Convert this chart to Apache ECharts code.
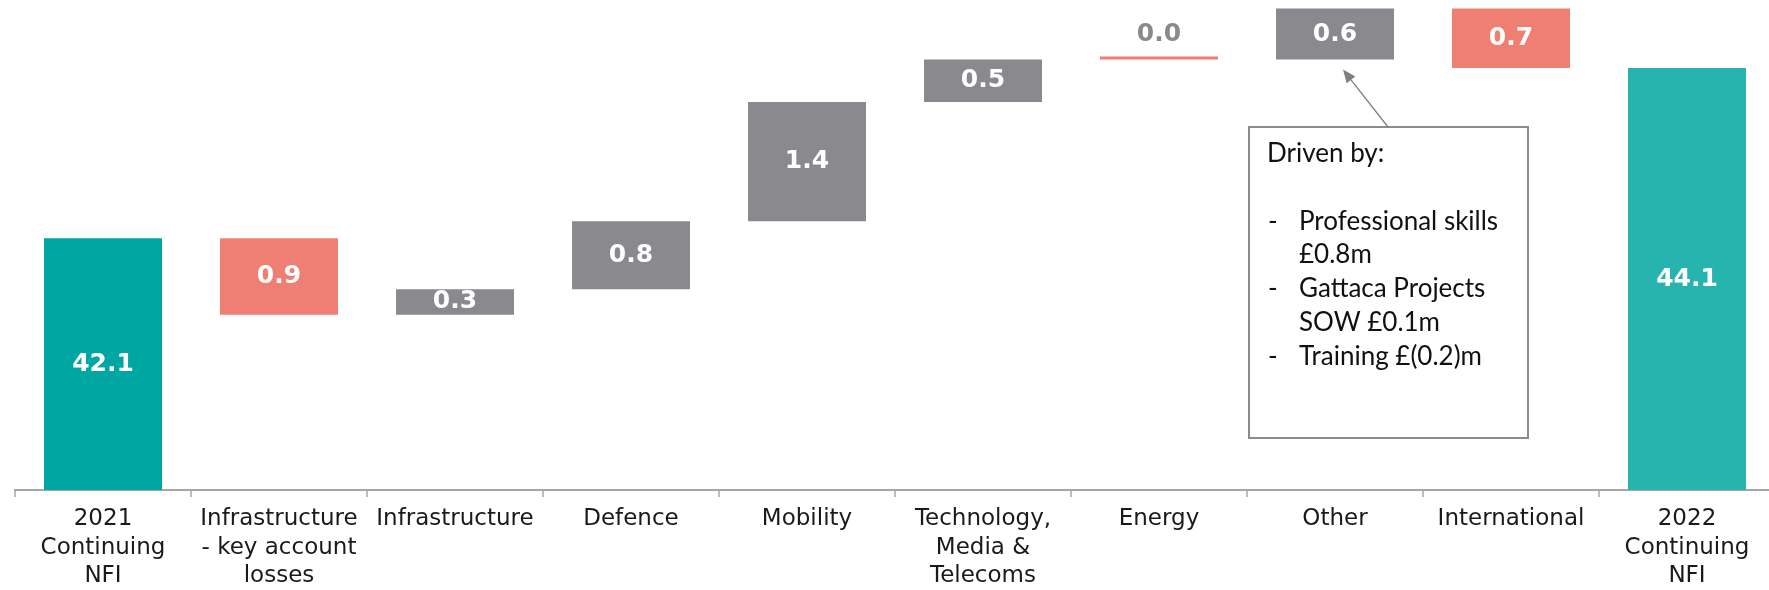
<!DOCTYPE html>
<html>
<head>
<meta charset="utf-8">
<script src="https://cdn.jsdelivr.net/npm/echarts@6/dist/echarts.min.js"></script>
<style>
html,body{margin:0;padding:0;background:#ffffff;}
#chart{width:1769px;height:590px;}
</style>
</head>
<body>
<div id="chart"></div>
<script>
// ---- data ----
const categories = [
  '2021\nContinuing\nNFI',
  'Infrastructure\n- key account\nlosses',
  'Infrastructure',
  'Defence',
  'Mobility',
  'Technology,\nMedia &\nTelecoms',
  'Energy',
  'Other',
  'International',
  '2022\nContinuing\nNFI'
];
const startTotal = 42.1;
const changes = [-0.9, 0.3, 0.8, 1.4, 0.5, 0.0, 0.6, -0.7];
const endTotal = 44.1;
const noteTitle = 'Driven by:';
const noteItems = [
  ['Professional skills', '£0.8m'],
  ['Gattaca Projects', 'SOW £0.1m'],
  ['Training £(0.2)m']
];
const noteTarget = 'Other';

// ---- styles ----
const TEAL_START = '#00A6A1';
const TEAL_END = '#28B4AE';
const RED = '#F07F73';
const GRAY = '#89898E';

// ---- build waterfall ----
const baseData = [];
const barData = [];
let running = startTotal;
const cumBefore = {};
baseData.push(0);
barData.push({ value: startTotal, itemStyle: { color: TEAL_START } });
changes.forEach((c, i) => {
  const cat = categories[i + 1];
  cumBefore[cat] = running;
  const lo = c >= 0 ? running : running + c;
  baseData.push(+lo.toFixed(4));
  const item = { value: Math.abs(c), itemStyle: { color: c > 0 ? GRAY : RED } };
  if (Math.abs(c) < 0.05) {
    item.label = { position: 'top', color: GRAY, distance: 10 };
  }
  barData.push(item);
  running += c;
});
baseData.push(0);
barData.push({ value: endTotal, itemStyle: { color: TEAL_END } });

const chart = echarts.init(document.getElementById('chart'), null, { renderer: 'canvas' });

const option = {
  animation: false,
  backgroundColor: '#ffffff',
  grid: { left: 15, top: 0, width: 1760, height: 490, containLabel: false, outerBoundsMode: 'none' },
  xAxis: {
    type: 'category',
    data: categories,
    axisLine: { lineStyle: { color: '#A6A6A6', width: 2 } },
    axisTick: { show: true, length: 7, lineStyle: { color: '#A6A6A6', width: 1.5 } },
    axisLabel: {
      interval: 0,
      margin: 15,
      color: '#1a1a1a',
      fontFamily: 'DejaVu Sans',
      fontSize: 23,
      lineHeight: 28.5,
      align: 'center'
    }
  },
  yAxis: {
    type: 'value',
    min: 39.14,
    max: 44.9,
    show: false,
    splitLine: { show: false }
  },
  series: [
    {
      type: 'bar',
      stack: 'wf',
      barWidth: 118,
      data: baseData,
      itemStyle: { color: 'rgba(0,0,0,0)' },
      emphasis: { disabled: true },
      silent: true
    },
    {
      type: 'bar',
      stack: 'wf',
      barWidth: 118,
      barMinHeight: 3,
      data: barData,
      label: {
        show: true,
        position: 'inside',
        color: '#ffffff',
        fontFamily: 'DejaVu Sans',
        fontWeight: 'bold',
        fontSize: 25,
        lineHeight: 25,
        formatter: p => Number(p.value).toFixed(1)
      }
    }
  ]
};
chart.setOption(option);

// ---- annotation box with arrow ----
const boxLeft = 1249, boxTop = 127, boxW = 279, boxH = 311;
const lineH = 33.7;
const noteFont = '26px Lato';
const texts = [];
texts.push({ type: 'text', style: { text: noteTitle, x: boxLeft + 18, y: boxTop + 27, font: noteFont, fill: '#111', verticalAlign: 'middle' } });
let row = 2;
noteItems.forEach(item => {
  texts.push({ type: 'text', style: { text: '-', x: boxLeft + 19, y: boxTop + 27 + row * lineH, font: noteFont, fill: '#111', verticalAlign: 'middle' } });
  item.forEach(t => {
    texts.push({ type: 'text', style: { text: t, x: boxLeft + 50, y: boxTop + 27 + row * lineH, font: noteFont, fill: '#111', verticalAlign: 'middle' } });
    row++;
  });
});

const barBottom = chart.convertToPixel({ xAxisIndex: 0, yAxisIndex: 0 }, [noteTarget, cumBefore[noteTarget]]);
const tip = [barBottom[0] + 8, barBottom[1] + 10];
const tail = [boxLeft + 139, boxTop];
const dx = tip[0] - tail[0], dy = tip[1] - tail[1];
const len = Math.sqrt(dx * dx + dy * dy);
const ux = dx / len, uy = dy / len;
const ah = 13, aw = 5.5;
const bx = tip[0] - ux * ah, by = tip[1] - uy * ah;
const head = [
  [tip[0], tip[1]],
  [bx - uy * aw, by + ux * aw],
  [bx + uy * aw, by - ux * aw]
];

chart.setOption({
  graphic: [
    { type: 'rect', shape: { x: boxLeft, y: boxTop, width: boxW, height: boxH }, style: { fill: '#ffffff', stroke: '#8C8C8C', lineWidth: 2 }, z: 10 },
    { type: 'line', shape: { x1: tail[0], y1: tail[1], x2: bx, y2: by }, style: { stroke: '#7F7F7F', lineWidth: 1.3 }, z: 10 },
    { type: 'polygon', shape: { points: head }, style: { fill: '#7F7F7F' }, z: 10 }
  ].concat(texts.map(t => Object.assign(t, { z: 11 })))
});
</script>
</body>
</html>
